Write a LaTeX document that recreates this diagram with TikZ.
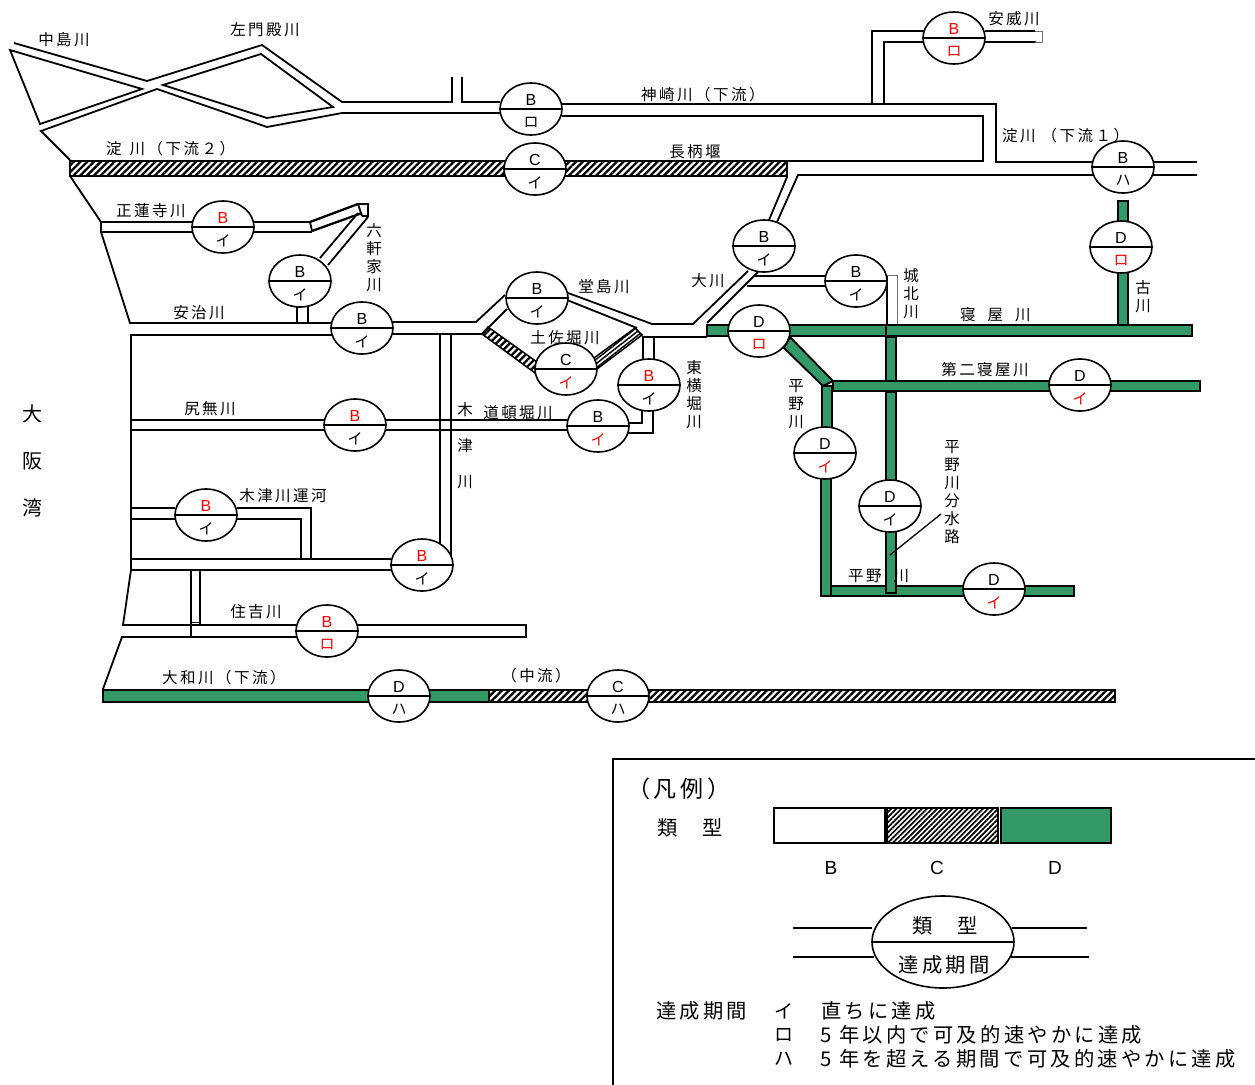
\documentclass[tikz,border=0pt]{standalone}
\usepackage{fontspec}
\setmainfont{Liberation Sans}
\newfontfamily\jp[LetterSpace=16]{Noto Sans CJK JP}
\newfontfamily\jpn{Noto Sans CJK JP}
\usetikzlibrary{shapes.geometric,patterns.meta}
\definecolor{rivgreen}{HTML}{339966}
\tikzset{
  riv/.style={draw=black,line width=1.8pt,line join=miter},
  heavy riv/.style={draw=black,line width=2.3pt,line join=miter},
  thin riv/.style={draw=black!55,line width=1pt},
  grn/.style={draw=black,fill=rivgreen,line width=1.9pt},
  hat/.style={draw=black,line width=1.5pt,pattern={Lines[angle=45,distance=4.8pt,line width=2.3pt]},pattern color=black},
  gatebox/.style={shape=ellipse,draw=black,fill=white,line width=1.6pt,minimum width=62pt,minimum height=52pt,inner sep=0pt},
  gatetop/.style={font=\fontsize{16}{16}\selectfont,inner sep=0pt,yshift=-0.5pt},
  gatebot/.style={font=\jpn\fontsize{15}{15}\selectfont,inner sep=0pt,yshift=-0.5pt},
  lbl/.style={font=\jp\fontsize{15.5}{18}\selectfont,inner sep=0pt,yshift=-1pt},
  lblw/.style={lbl,anchor=west},
  vlbl/.style={font=\jpn\fontsize{15.5}{18}\selectfont,inner sep=0pt,align=center,yshift=-1pt},
  leg/.style={font=\jp\fontsize{20.3}{22}\selectfont,inner sep=0pt,anchor=west,yshift=-1pt},
  legl/.style={font=\fontsize{19}{19}\selectfont,inner sep=0pt},
  legbar/.style={draw=black,line width=1.8pt},
}
% name, x, y, top letter, bottom kana, top colour, bottom colour
\newcommand{\rgate}[7]{%
  \node[gatebox] (#1) at (#2,#3) {};
  \draw[line width=1.6pt] (#1.west) -- (#1.east);
  \node[gatetop,text=#6] (#1-t) at (#2,#3-10) {#4};
  \node[gatebot,text=#7] (#1-b) at (#2,#3+13) {#5};
}
\begin{document}
\begin{tikzpicture}[x=1pt,y=-1pt]
\useasboundingbox (0,0) rectangle (1255,1084);
% ---------- upper left delta
\draw[riv] (14,43) -- (147,81) -- (262,45) -- (342,102) -- (452,102) -- (452,77);
\draw[riv] (462,77) -- (462,102) -- (500,102);
\draw[riv] (500,113) -- (342,113) -- (267,127) -- (157,89) -- (41,131) -- (70,160);
\draw[riv] (10,50) -- (142,89) -- (40,124) -- cycle;
\draw[riv] (163,85) -- (261,54) -- (333,107) -- (267,118) -- cycle;
% ---------- Kanzaki / Yodo lower 1
\draw[riv] (562,104) -- (996,104) -- (996,162) -- (1197,162);
\draw[riv] (562,116) -- (983,116) -- (983,161) -- (787,161);
\draw[riv] (1197,175) -- (798,175) -- (777,222);
\draw[riv] (787,177) -- (769,220);
% ---------- Ai river
\draw[heavy riv] (872,104) -- (872,31) -- (924,31);
\draw[heavy riv] (884,104) -- (884,42) -- (924,42);
\draw[heavy riv] (872,31) -- (884,31);
\draw[riv] (985,31) -- (1035,31);
\draw[riv] (985,42) -- (1036,42);
\draw[thin riv] (1035,31) -- (1042,31) -- (1042,42) -- (1035,42);
% ---------- Yodo lower 2, hatched
\draw[hat] (70,161) rectangle (787,176);
% ---------- left shore
\draw[riv] (70,176) -- (101,222) -- (193,222);
\draw[riv] (101,222) -- (101,232);
\draw[riv] (193,232) -- (101,232) -- (130,323) -- (332,323);
% ---------- Shoren-ji
\draw[riv] (253,222) -- (310,222);
\draw[heavy riv] (310,222) -- (358,204);
\draw[riv] (253,232) -- (312,232);
\draw[heavy riv] (312,231) -- (362,213);
\draw[riv] (310,222) -- (312,231);
\draw[riv] (358,204) -- (368,204) -- (368,216) -- (362,216);
\draw[riv] (358,204) -- (362,216);
\draw[riv] (320,258) -- (358,213);
\draw[riv] (328,265) -- (368,217);
\draw[riv] (297,304) -- (297,323);
\draw[riv] (308,304) -- (308,323);
% ---------- Aji
\draw[riv] (332,335) -- (131,335) -- (131,420);
\draw[riv] (393,322) -- (476,322) -- (505,295);
\draw[riv] (393,334) -- (482,334) -- (507,309);
% ---------- Dojima / Okawa
\draw[riv] (568,293) -- (652,324) -- (693,324) -- (748,271);
\draw[riv] (567,300) -- (637,328);
\draw[riv] (758,272) -- (707,323);
\draw[riv] (642,337) -- (707,337);
\draw[riv] (755,276) -- (825,276);
\draw[riv] (747,286) -- (825,286);
% ---------- Joto-kita
\draw[riv] (887,275) -- (887,325);
\draw[thin riv] (887,275) -- (897,275) -- (897,325);
% ---------- Tosabori hatched
\draw[hat] (482,334) -- (488,327) -- (537,362) -- (535,373) -- cycle;
\draw[hat,pattern={Lines[angle=38,distance=3.4pt,line width=1.5pt]}] (594,358) -- (635,328) -- (642,335) -- (597,369) -- cycle;
% ---------- Higashi-yokobori
\draw[riv] (643,337) -- (643,360);
\draw[riv] (654,337) -- (654,360);
\draw[riv] (642,408) -- (642,423) -- (628,423);
\draw[heavy riv] (653,408) -- (653,433) -- (628,433);
% ---------- Shirinashi / Dotonbori
\draw[riv] (131,420) -- (324,420);
\draw[riv] (131,430) -- (324,430);
\draw[riv] (385,420) -- (567,420);
\draw[riv] (385,430) -- (567,430);
\draw[riv] (440,334) -- (440,550);
\draw[riv] (451,334) -- (451,566);
% ---------- Kizu canal
\draw[riv] (131,420) -- (131,570);
\draw[riv] (175,508) -- (131,508);
\draw[riv] (175,519) -- (131,519);
\draw[heavy riv] (237,508) -- (311,508) -- (311,559);
\draw[heavy riv] (237,519) -- (301,519) -- (301,559);
\draw[heavy riv] (131,559) -- (391,559);
\draw[heavy riv] (131,570) -- (391,570);
% ---------- Sumiyoshi
\draw[riv] (131,570) -- (123,625) -- (296,625);
\draw[riv] (296,637) -- (122,637) -- (103,689);
\draw[riv] (191,570) -- (191,637);
\draw[riv] (200,570) -- (200,625);
\draw[line width=1pt] (191,622) -- (200,622);
\draw[riv] (358,625) -- (526,625) -- (526,637) -- (358,637);
% ---------- Yamato
\draw[grn] (103,690) rectangle (489,702);
\draw[hat] (489,690) rectangle (1115,702);
% ---------- green network
\draw[grn] (707,325) rectangle (1192,336);
\draw[grn] (1118,201) rectangle (1128,225);
\draw[grn] (1118,270) rectangle (1128,325);
\draw[grn] (886,337) rectangle (896,382);
\draw[grn] (886,392) rectangle (896,482);
\draw[grn] (833,381) rectangle (1200,391);
\draw[grn] (790,337) -- (833,381) -- (823,386) -- (784,348) -- cycle;
\draw[grn] (822,386) rectangle (832,430);
\draw[grn] (831,586) rectangle (1074,596);
\draw[grn] (821,475) rectangle (831,596);
\draw[grn] (886,528) rectangle (896,593);
\draw[line width=1.5pt] (886,325) -- (886,336);
\coordinate (leaderEnd) at (890,555);
% ---------- gates
\rgate{g1}{223}{227}{B}{イ}{red}{black}
\rgate{g2}{300}{281}{B}{イ}{black}{black}
\rgate{g3}{362}{328}{B}{イ}{black}{black}
\rgate{g4}{531}{109}{B}{ロ}{black}{black}
\rgate{g5}{535}{169}{C}{イ}{black}{black}
\rgate{g6}{764}{246}{B}{イ}{black}{black}
\rgate{g7}{537}{298}{B}{イ}{black}{black}
\rgate{g8}{566}{369}{C}{イ}{black}{red}
\rgate{g9}{649}{385}{B}{イ}{red}{black}
\rgate{g10}{598}{426}{B}{イ}{black}{red}
\rgate{g11}{759}{331}{D}{ロ}{black}{red}
\rgate{g12}{856}{281}{B}{イ}{black}{black}
\rgate{g13}{954}{38}{B}{ロ}{red}{red}
\rgate{g14}{1123}{167}{B}{ハ}{black}{black}
\rgate{g15}{1121}{247}{D}{ロ}{black}{red}
\rgate{g16}{1080}{385}{D}{イ}{black}{red}
\rgate{g17}{825}{453}{D}{イ}{black}{red}
\rgate{g18}{890}{506}{D}{イ}{black}{black}
\rgate{g19}{994}{589}{D}{イ}{black}{red}
\rgate{g20}{355}{425}{B}{イ}{red}{black}
\rgate{g21}{206}{515}{B}{イ}{red}{black}
\rgate{g22}{422}{565}{B}{イ}{red}{black}
\rgate{g23}{327}{631}{B}{ロ}{red}{red}
\rgate{g24}{399}{696}{D}{ハ}{black}{black}
\rgate{g25}{618}{696}{C}{ハ}{black}{black}
% ---------- river labels
\node[lbl] (nakajima) at (64,39) {中島川};
\node[lbl] (samonden) at (265,29) {左門殿川};
\node[lblw] (yodo2) at (106,148) {淀\hspace{8pt}川（下流２）};
\node[lblw] (shoren) at (116,210) {正蓮寺川};
\node[vlbl] (rokken) at (374,257) {六\\軒\\家\\川};
\node[lbl] (aji) at (199,312) {安治川};
\node[lblw] (kanzaki) at (641,94) {神崎川（下流）};
\node[lbl] (nagara) at (695,151) {長柄堰};
\node[lbl] (aiga) at (1014,18) {安威川};
\node[lblw] (yodo1) at (1002,135) {淀川\hspace{6pt}（下流１）};
\node[lbl] (okawa) at (708,280) {大川};
\node[lbl] (dojima) at (604,286) {堂島川};
\node[lbl] (tosa) at (565,337) {土佐堀川};
\node[vlbl] (joto) at (911,293) {城\\北\\川};
\node[lblw] (neya) at (960,314) {寝\hspace{12pt}屋\hspace{12pt}川};
\node[vlbl] (furu) at (1143,296) {古\\川};
\node[vlbl] (higashi) at (694,394) {東\\横\\堀\\川};
\node[lbl] (daini) at (985,369) {第二寝屋川};
\node[vlbl] (hirano1) at (796,403) {平\\野\\川};
\node[vlbl] (bunsui) at (952,491) {平\\野\\川\\分\\水\\路};
\node[lblw] (hirano2) at (848,575) {平野\hspace{12pt}川};
\node[lbl] (shiri) at (210,408) {尻無川};
\node[lbl] (doton) at (518,412) {道頓堀川};
\node[vlbl,font=\jpn\fontsize{15.5}{36}\selectfont] (kizu) at (465,445) {木\\津\\川};
\node[lbl] (unga) at (283,495) {木津川運河};
\node[lbl] (sumi) at (256,611) {住吉川};
\node[lblw] (yamato) at (162,677) {大和川（下流）};
\node[lbl] (chu) at (536,675) {（中流）};
\node[vlbl,font=\jpn\fontsize{20}{47}\selectfont] (osaka) at (32,460) {大\\阪\\湾};
\draw[line width=1.3pt] (941,514) -- (leaderEnd);
% ---------- legend
\draw[line width=1.6pt] (1256,759) -- (613,759) -- (613,1085);
\node[leg,font=\jp\fontsize{23}{24}\selectfont] (hanrei) at (627,788) {（凡例）};
\node[leg] (ruikei) at (657,827) {類\hspace{25pt}型};
\draw[legbar] (774,808) rectangle (885,843);
\draw[legbar,pattern={Lines[angle=45,distance=3.6pt,line width=1.7pt]},pattern color=black] (887,808) rectangle (998,843);
\draw[legbar,fill=rivgreen] (1001,808) rectangle (1111,843);
\node[legl] (legB) at (831,868) {B};
\node[legl] (legC) at (937,868) {C};
\node[legl] (legD) at (1055,868) {D};
\coordinate (legA1) at (793,928);
\coordinate (legA2) at (1087,928);
\coordinate (legB1) at (793,957);
\coordinate (legB2) at (1089,957);
\node[gatebox,minimum width=142pt,minimum height=92pt] (legG) at (943,942) {};
\draw[line width=1.6pt] (legG.west) -- (legG.east);
\draw[riv] (legA1) -- (872,928);
\draw[riv] (1012,928) -- (legA2);
\draw[riv] (legB1) -- (874,957);
\draw[riv] (1011,957) -- (legB2);
\node[leg,anchor=center] (legGt) at (945,925) {類\hspace{25pt}型};
\node[leg,anchor=center] (legGb) at (944,964) {達成期間};
\node[leg] (ki) at (656,1010) {達成期間};
\node[leg,font=\jpn\fontsize{19}{22}\selectfont,anchor=center] (k1) at (784,1010) {イ};
\node[leg,font=\jpn\fontsize{19}{22}\selectfont,anchor=center] (k2) at (784,1034) {ロ};
\node[leg,font=\jpn\fontsize{19}{22}\selectfont,anchor=center] (k3) at (784,1058) {ハ};
\node[leg] (t1) at (821,1010) {直ちに達成};
\node[leg] (t2) at (820,1034) {5 年以内で可及的速やかに達成};
\node[leg] (t3) at (820,1058) {5 年を超える期間で可及的速やかに達成};
\end{tikzpicture}
\end{document}
